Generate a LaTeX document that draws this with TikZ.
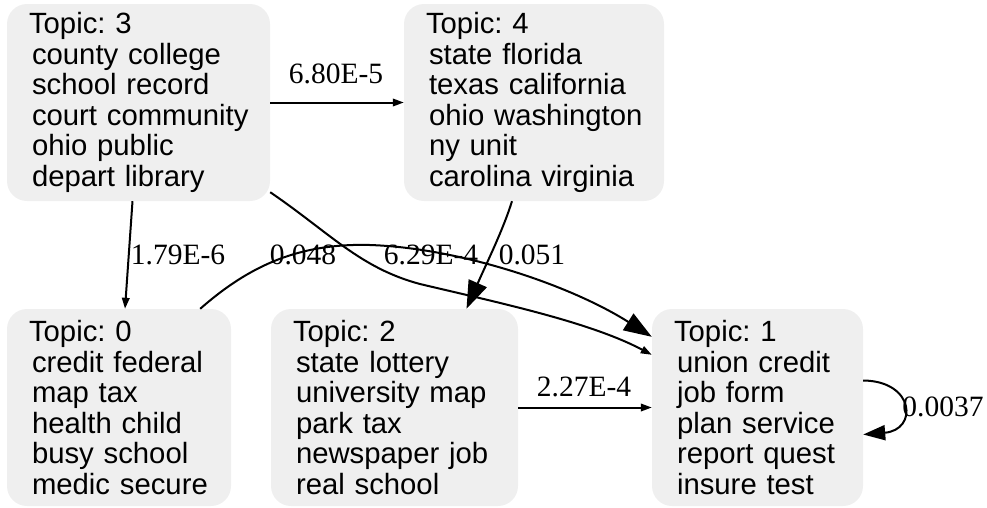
\documentclass[tikz,border=0pt]{standalone}
\usepackage{fontspec}
\setmainfont{Liberation Serif}
\newfontfamily\topicfont{Liberation Sans}
\usetikzlibrary{arrows.meta}

\definecolor{topicgray}{RGB}{239,239,239}
% one indented word line of a topic box, never broken
\newcommand{\tline}[1]{\mbox{\hspace*{3pt}#1}}
\frenchspacing

\tikzset{
  topic/.style={fill=topicgray, rounded corners=20pt, inner xsep=22pt, inner ysep=0pt,
    minimum height=197pt, align=left, font=\topicfont\fontsize{29.3}{30.6}\selectfont},
  wlabel/.style={inner sep=0pt, font=\fontsize{29.5}{32}\selectfont},
  thin arrow/.style={line width=2pt, -{Triangle[length=11pt,width=7.5pt]}},
  mid arrow/.style={line width=2pt, -{Triangle[length=22pt,width=15pt]}},
  thick arrow/.style={line width=2pt, -{Triangle[length=28pt,width=19.5pt]}},
}

\begin{document}
\begin{tikzpicture}[x=1pt,y=-1pt]
\useasboundingbox (0,0) rectangle (987,507);

% Topic boxes
\node[topic, text width=219pt] (t3) at (138.5,102.5) {Topic: 3\\ \tline{county college}\\ \tline{school record}\\ \tline{court community}\\ \tline{ohio public}\\ \tline{depart library}};
\node[topic, text width=216pt] (t4) at (534,102.5) {Topic: 4\\ \tline{state florida}\\ \tline{texas california}\\ \tline{ohio washington}\\ \tline{ny unit}\\ \tline{carolina virginia}};
\node[topic, text width=180pt] (t0) at (119,407.5) {Topic: 0\\ \tline{credit federal}\\ \tline{map tax}\\ \tline{health child}\\ \tline{busy school}\\ \tline{medic secure}};
\node[topic, text width=203pt] (t2) at (394.5,407.5) {Topic: 2\\ \tline{state lottery}\\ \tline{university map}\\ \tline{park tax}\\ \tline{newspaper job}\\ \tline{real school}};
\node[topic, text width=167pt] (t1) at (757.5,407.5) {Topic: 1\\ \tline{union credit}\\ \tline{job form}\\ \tline{plan service}\\ \tline{report quest}\\ \tline{insure test}};

% Edge weights
\node[wlabel] (w34) at (336,74) {6.80E-5};
\node[wlabel] (w30) at (178,255) {1.79E-6};
\node[wlabel] (w01) at (303,255) {0.048};
\node[wlabel] (w31) at (431,255) {6.29E-4};
\node[wlabel] (w42) at (532,255) {0.051};
\node[wlabel] (w21) at (584,387) {2.27E-4};
\node[wlabel] (w11) at (943,407) {0.0037};

% Transitions
\draw[thin arrow] (t3) -- (t4);
\draw[thin arrow] ([xshift=-6pt]t3.south) -- ([xshift=6pt]t0.north);
\draw[thick arrow] ([xshift=-31pt]t0.north east) .. controls (250,265) and (300,243) .. (370,245)
  .. controls (460,248) and (570,285) .. ([yshift=-28pt]t1.north west);
\draw[thin arrow] ([yshift=9pt]t3.south east) .. controls (330,233) and (360,268) .. (420,284)
  .. controls (500,303) and (590,322) .. ([yshift=-46pt]t1.north west);
\draw[thick arrow] ([xshift=-22pt]t4.south) .. controls (503,230) and (488,260) .. ([xshift=72pt]t2.north);
\draw[thin arrow] (t2) -- (t1);
\draw[mid arrow] ([yshift=27pt]t1.east) .. controls (915,381) and (918,430) .. ([yshift=-27pt]t1.east);

\end{tikzpicture}
\end{document}
